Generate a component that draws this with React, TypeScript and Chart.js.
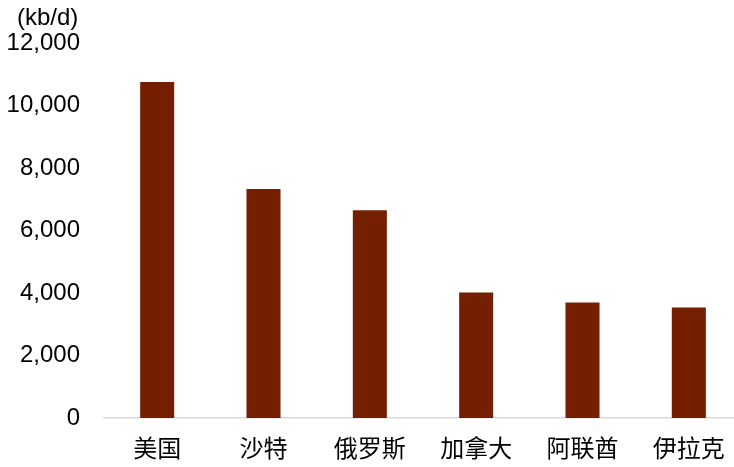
import { useEffect, useRef } from 'react';
import { Chart, registerables } from 'chart.js';

Chart.register(...registerables);

const categories = ['美国', '沙特', '俄罗斯', '加拿大', '阿联酋', '伊拉克'];
const production = [10750, 7330, 6650, 4020, 3700, 3540];
const yTicks = { min: 0, max: 12000, step: 2000 };
const unitLabel = '(kb/d)';

const fontFamily = "'Liberation Sans', Arial, 'Noto Sans CJK SC', sans-serif";
const barColor = '#741F00';
const axisColor = '#D9D9D9';
const textColor = '#000000';

export default function App(): JSX.Element {
  const canvasRef = useRef<HTMLCanvasElement | null>(null);

  useEffect(() => {
    const canvas = canvasRef.current;
    if (!canvas) return;
    const chart = new Chart(canvas, {
      type: 'bar',
      data: {
        labels: categories,
        datasets: [
          {
            label: unitLabel,
            data: production,
            backgroundColor: barColor,
            categoryPercentage: 1,
            barPercentage: 0.32,
          },
        ],
      },
      options: {
        animation: false,
        responsive: true,
        maintainAspectRatio: false,
        layout: { padding: { top: 43, right: 2, left: 0, bottom: 0 } },
        plugins: {
          legend: { display: false },
          tooltip: { enabled: false },
        },
        scales: {
          x: {
            grid: { display: false, drawTicks: false },
            border: { display: true, color: axisColor, width: 1.5 },
            ticks: {
              color: textColor,
              padding: 18,
              font: { family: fontFamily, size: 24 },
              maxRotation: 0,
              autoSkip: false,
            },
            afterFit: (scale) => {
              scale.height = 49;
            },
          },
          y: {
            min: yTicks.min,
            max: yTicks.max,
            grid: { display: false, drawTicks: false },
            border: { display: false },
            ticks: {
              stepSize: yTicks.step,
              color: textColor,
              padding: 24,
              font: { family: fontFamily, size: 24 },
              callback: (value) => Number(value).toLocaleString('en-US'),
            },
            afterFit: (scale) => {
              scale.width = 104;
            },
          },
        },
      },
    });
    return () => chart.destroy();
  }, []);

  return (
    <div
      style={{
        position: 'fixed',
        left: 0,
        top: 0,
        width: 734,
        height: 467,
        overflow: 'hidden',
        background: '#ffffff',
      }}
    >
      <div style={{ position: 'relative', width: 744, height: 467 }}>
        <canvas ref={canvasRef} />
        <div
          style={{
            position: 'absolute',
            left: 17,
            top: 5,
            fontFamily,
            fontSize: 24,
            lineHeight: '24px',
            color: textColor,
          }}
        >
          {unitLabel}
        </div>
      </div>
    </div>
  );
}
